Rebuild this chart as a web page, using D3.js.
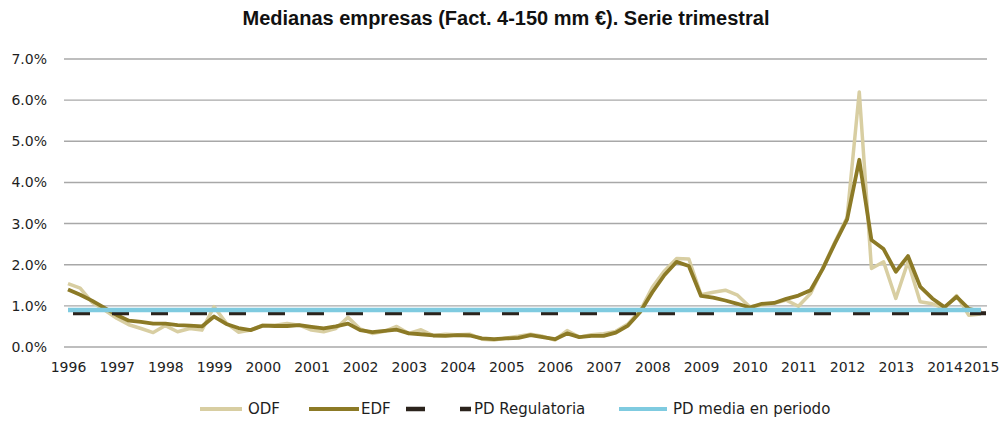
<!DOCTYPE html>
<html>
<head>
<meta charset="utf-8">
<script src="https://cdn.jsdelivr.net/npm/d3@7"></script>
<style>
  html, body { margin: 0; padding: 0; background: #ffffff; }
  svg { display: block; }
</style>
</head>
<body>
<svg id="chart" width="1005" height="421"></svg>
<script>
// ---- Data (values in %) : quarterly 1996Q1 .. 2014Q4 ----
const quarters = d3.range(76);
const odf = [1.54,1.43,1.08,0.90,0.70,0.54,0.45,0.35,0.52,0.37,0.45,0.41,0.98,0.58,0.36,0.41,
             0.53,0.53,0.57,0.53,0.41,0.37,0.45,0.72,0.44,0.33,0.38,0.50,0.33,0.42,0.28,0.31,
             0.30,0.31,0.19,0.17,0.22,0.26,0.31,0.26,0.17,0.40,0.24,0.30,0.32,0.38,0.56,0.88,
             1.45,1.85,2.15,2.14,1.27,1.33,1.38,1.26,0.98,1.02,1.06,1.14,0.99,1.30,1.92,2.55,
             3.15,6.20,1.91,2.07,1.18,2.07,1.10,1.05,0.94,1.25,0.77,0.80];
const edf = [1.40,1.27,1.12,0.95,0.78,0.64,0.61,0.57,0.57,0.53,0.52,0.50,0.74,0.56,0.46,0.41,
             0.52,0.51,0.51,0.53,0.49,0.45,0.50,0.57,0.41,0.36,0.39,0.42,0.33,0.31,0.28,0.27,
             0.29,0.28,0.21,0.19,0.21,0.22,0.29,0.24,0.19,0.33,0.24,0.27,0.27,0.35,0.52,0.85,
             1.33,1.75,2.07,1.97,1.24,1.20,1.13,1.05,0.96,1.05,1.07,1.17,1.25,1.38,1.90,2.52,
             3.10,4.55,2.60,2.38,1.83,2.21,1.47,1.18,0.97,1.22,0.93,0.86];
const pdRegulatoria = quarters.map(() => 0.82);
const pdMedia = quarters.map(() => 0.90);
const yTicks = [0,1,2,3,4,5,6,7];
const xTickIdx = [0,4,8,12,16,20,24,28,32,36,40,44,48,52,56,60,64,68,72,75];
const xTickLabels = ["1996","1997","1998","1999","2000","2001","2002","2003","2004","2005",
                     "2006","2007","2008","2009","2010","2011","2012","2013","2014","2015"];
const title = "Medianas empresas (Fact. 4-150 mm €). Serie trimestral";
const legendItems = ["ODF","EDF","PD Regulatoria","PD media en periodo"];

// ---- Layout ----
const svg = d3.select("#chart");
const x = d3.scaleLinear().domain([0, 75]).range([68, 981]);
const y = d3.scaleLinear().domain([0, 7]).range([347, 59]);
const gridX0 = 64, gridX1 = 987;
const C = { odf: "#d8cea2", edf: "#8c7a26", reg: "#2b231c", media: "#7fcbe0", grid: "#a8a8a8", text: "#1e1e1e" };
const axisFont = "DejaVu Sans, sans-serif";

// Title
svg.append("text").attr("x", 506).attr("y", 25).attr("text-anchor", "middle")
  .attr("font-family", "Liberation Sans, Arial, sans-serif").attr("font-weight", "bold")
  .attr("font-size", 20).attr("fill", "#111").text(title);

// Gridlines
svg.append("g").selectAll("line").data(yTicks).join("line")
  .attr("x1", gridX0).attr("x2", gridX1)
  .attr("y1", d => y(d)).attr("y2", d => y(d))
  .attr("stroke", C.grid).attr("stroke-width", 1.4);

// Y axis
const yAxis = svg.append("g").attr("transform", "translate(47,0)")
  .call(d3.axisLeft(y).tickValues(yTicks).tickFormat(d => d.toFixed(1) + "%").tickSize(0).tickPadding(0));
yAxis.select(".domain").remove();
yAxis.selectAll("text").attr("font-family", axisFont).attr("font-size", 14).attr("fill", C.text);

// X axis
const xAxis = svg.append("g").attr("transform", "translate(0,362)")
  .call(d3.axisBottom(x).tickValues(xTickIdx).tickFormat((d, i) => xTickLabels[i]).tickSize(0).tickPadding(0));
xAxis.select(".domain").remove();
xAxis.selectAll("text").attr("font-family", axisFont).attr("font-size", 14).attr("fill", C.text);

// Lines
const line = d3.line().x((d, i) => x(i)).y(d => y(d));
svg.append("path").datum(odf).attr("d", line).attr("fill", "none")
  .attr("stroke", C.odf).attr("stroke-width", 3.5).attr("stroke-linejoin", "round");
svg.append("path").datum(edf).attr("d", line).attr("fill", "none")
  .attr("stroke", C.edf).attr("stroke-width", 3.8).attr("stroke-linejoin", "round");
svg.append("path").datum(pdRegulatoria).attr("d", line).attr("fill", "none")
  .attr("stroke", C.reg).attr("stroke-width", 4).attr("stroke-dasharray", "17 22")
  .attr("transform", "translate(5,0)");
svg.append("path").datum(pdMedia).attr("d", line).attr("fill", "none")
  .attr("stroke", C.media).attr("stroke-width", 4.5);

// Legend
const ly = 409;
const lg = svg.append("g");
const legendFont = "DejaVu Sans, sans-serif";
function legText(tx, s) {
  lg.append("text").attr("x", tx).attr("y", ly + 5).attr("font-family", legendFont)
    .attr("font-size", 15).attr("fill", C.text).text(s);
}
lg.append("line").attr("x1", 200).attr("x2", 242).attr("y1", ly).attr("y2", ly)
  .attr("stroke", C.odf).attr("stroke-width", 4);
legText(248, legendItems[0]);
lg.append("line").attr("x1", 309).attr("x2", 359).attr("y1", ly).attr("y2", ly)
  .attr("stroke", C.edf).attr("stroke-width", 4);
legText(361, legendItems[1]);
lg.append("line").attr("x1", 406).attr("x2", 471).attr("y1", ly).attr("y2", ly)
  .attr("stroke", C.reg).attr("stroke-width", 4.5).attr("stroke-dasharray", "19 35 11 100");
legText(474, legendItems[2]);
lg.append("line").attr("x1", 619).attr("x2", 667).attr("y1", ly).attr("y2", ly)
  .attr("stroke", C.media).attr("stroke-width", 4);
legText(673, legendItems[3]);
</script>
</body>
</html>
